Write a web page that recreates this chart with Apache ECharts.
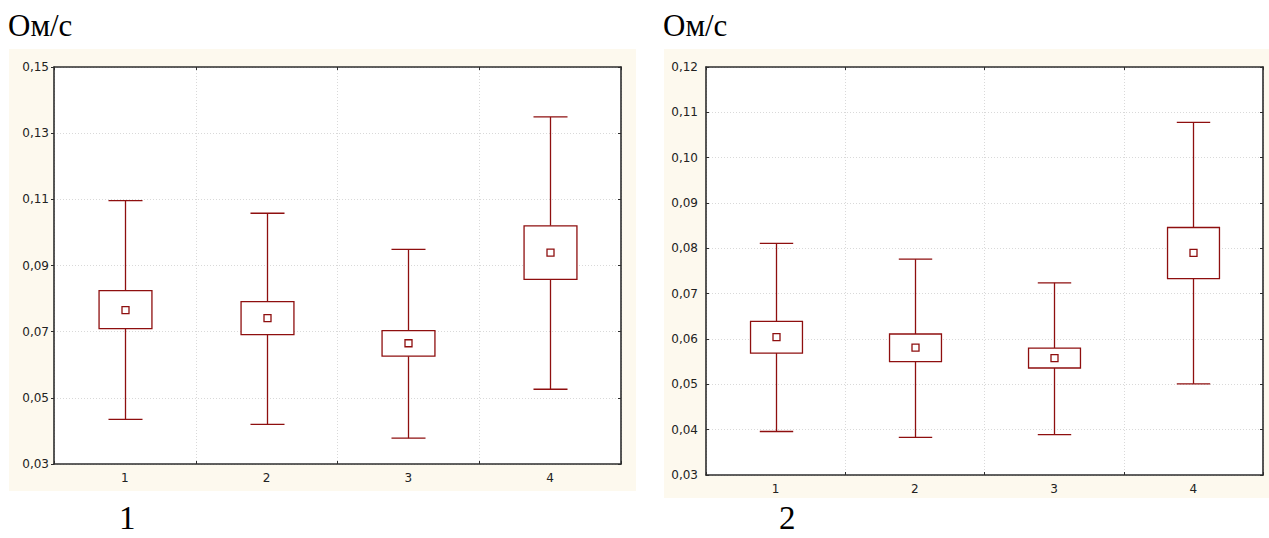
<!DOCTYPE html>
<html>
<head>
<meta charset="utf-8">
<script src="https://cdn.jsdelivr.net/npm/echarts@6/dist/echarts.min.js"></script>
<style>
html,body{margin:0;padding:0;background:#fff;}
#chart{width:1269px;height:538px;}
</style>
</head>
<body>
<div id="chart"></div>
<script>
// ---- Data ----
const categories = ['1', '2', '3', '4'];
const unitLabel = 'Ом/с';
const panelLabels = ['1', '2'];

// Chart 1
const c1WhiskerLow  = [0.0435, 0.0420, 0.0378, 0.0526];
const c1BoxLow      = [0.0709, 0.0691, 0.0626, 0.0858];
const c1Mean        = [0.0765, 0.0741, 0.0665, 0.0939];
const c1BoxHigh     = [0.0824, 0.0791, 0.0703, 0.1020];
const c1WhiskerHigh = [0.1096, 0.1058, 0.0949, 0.1349];

// Chart 2
const c2WhiskerLow  = [0.0396, 0.0383, 0.0389, 0.0501];
const c2BoxLow      = [0.0569, 0.0550, 0.0536, 0.0733];
const c2Mean        = [0.0604, 0.0581, 0.0558, 0.0790];
const c2BoxHigh     = [0.0639, 0.0611, 0.0580, 0.0846];
const c2WhiskerHigh = [0.0811, 0.0776, 0.0724, 0.1078];

// Axis settings
const c1YMin = 0.03, c1YMax = 0.15, c1YStep = 0.02;
const c2YMin = 0.03, c2YMax = 0.12, c2YStep = 0.01;

// ---- Build ----
function rows(wl, bl, m, bh, wh) {
  return categories.map((c, i) => [i, wl[i], bl[i], m[i], bh[i], wh[i]]);
}
const RED = '#8e0f0f';
const LW = 1.3;

function renderBox(params, api) {
  const x = api.value(0);
  const wl = api.coord([x, api.value(1)]);
  const bl = api.coord([x, api.value(2)]);
  const m = api.coord([x, api.value(3)]);
  const bh = api.coord([x, api.value(4)]);
  const wh = api.coord([x, api.value(5)]);
  const band = api.size([1, 0])[0];
  const bw = band * 0.373;
  const cw = band * 0.24;
  const mk = 7;
  const cx = Math.round(wl[0]) + 0.5;
  const st = { stroke: RED, lineWidth: LW, fill: null };
  return {
    type: 'group',
    children: [
      { type: 'line', shape: { x1: cx, y1: wh[1], x2: cx, y2: bh[1] }, style: st },
      { type: 'line', shape: { x1: cx, y1: bl[1], x2: cx, y2: wl[1] }, style: st },
      { type: 'line', shape: { x1: cx - cw / 2, y1: wh[1], x2: cx + cw / 2, y2: wh[1] }, style: st },
      { type: 'line', shape: { x1: cx - cw / 2, y1: wl[1], x2: cx + cw / 2, y2: wl[1] }, style: st },
      { type: 'rect', shape: { x: cx - bw / 2, y: bh[1], width: bw, height: bl[1] - bh[1] }, style: { stroke: RED, lineWidth: LW, fill: '#fff' } },
      { type: 'rect', shape: { x: cx - mk / 2, y: m[1] - mk / 2, width: mk, height: mk }, style: { stroke: RED, lineWidth: LW, fill: '#fff' } }
    ]
  };
}

const fmt = v => v.toFixed(2).replace('.', ',');
const AX = '#2e2e2e';
const gridLine = { show: true, lineStyle: { color: '#d9d9d9', type: [1, 2], width: 1 } };
const labelFont = { fontFamily: 'DejaVu Sans, Arial, sans-serif', fontSize: 12, color: '#222' };

function xAxes(gi) {
  return [
    { type: 'category', gridIndex: gi, data: categories, position: 'bottom', boundaryGap: true,
      axisLine: { lineStyle: { color: AX, width: 1.6 } },
      axisTick: { show: true, inside: true, length: 3, lineStyle: { color: AX } },
      axisLabel: Object.assign({ margin: 8 }, labelFont),
      splitLine: gridLine },
    { type: 'category', gridIndex: gi, data: categories, position: 'top', boundaryGap: true,
      axisLine: { lineStyle: { color: AX, width: 1.6 } },
      axisTick: { show: true, inside: true, length: 3, lineStyle: { color: AX } },
      axisLabel: { show: false }, splitLine: { show: false } }
  ];
}
function yAxes(gi, min, max, step, inside) {
  return [
    { type: 'value', gridIndex: gi, min: min, max: max, interval: step, position: 'left',
      axisLine: { show: true, lineStyle: { color: AX, width: 1.6 } },
      axisTick: { show: true, inside: inside, length: 3, lineStyle: { color: AX } },
      axisLabel: Object.assign({ margin: inside ? 8 : 5, formatter: fmt }, labelFont),
      splitLine: gridLine },
    { type: 'value', gridIndex: gi, min: min, max: max, interval: step, position: 'right',
      axisLine: { show: true, lineStyle: { color: AX, width: 1.6 } },
      axisTick: { show: true, inside: true, length: 3, lineStyle: { color: AX } },
      axisLabel: { show: false }, splitLine: { show: false } }
  ];
}

const chart = echarts.init(document.getElementById('chart'), null, { renderer: 'svg' });
const serif = 'Liberation Serif, Times New Roman, serif';
chart.setOption({
  backgroundColor: '#fff',
  animation: false,
  graphic: [
    { type: 'rect', left: 9, top: 49, shape: { width: 627, height: 442 }, style: { fill: '#fdf9ee' }, z: -10 },
    { type: 'rect', left: 664, top: 49, shape: { width: 605, height: 449 }, style: { fill: '#fdf9ee' }, z: -10 }
  ],
  title: [
    { text: unitLabel, left: 8, top: 10, textStyle: { fontFamily: serif, fontSize: 31, fontWeight: 'normal', color: '#000' }, padding: 0 },
    { text: unitLabel, left: 663, top: 10, textStyle: { fontFamily: serif, fontSize: 31, fontWeight: 'normal', color: '#000' }, padding: 0 },
    { text: panelLabels[0], left: 119, top: 501, textStyle: { fontFamily: serif, fontSize: 33, fontWeight: 'normal', color: '#000' }, padding: 0 },
    { text: panelLabels[1], left: 779, top: 501, textStyle: { fontFamily: serif, fontSize: 33, fontWeight: 'normal', color: '#000' }, padding: 0 }
  ],
  grid: [
    { left: 54, top: 67, width: 567, height: 397, show: true, backgroundColor: '#fff', borderWidth: 0 },
    { left: 706, top: 67, width: 557, height: 408, show: true, backgroundColor: '#fff', borderWidth: 0 }
  ],
  xAxis: xAxes(0).concat(xAxes(1)),
  yAxis: yAxes(0, c1YMin, c1YMax, c1YStep, false).concat(yAxes(1, c2YMin, c2YMax, c2YStep, true)),
  series: [
    { type: 'custom', xAxisIndex: 0, yAxisIndex: 0, renderItem: renderBox,
      encode: { x: 0, y: [1, 2, 3, 4, 5] },
      data: rows(c1WhiskerLow, c1BoxLow, c1Mean, c1BoxHigh, c1WhiskerHigh) },
    { type: 'custom', xAxisIndex: 2, yAxisIndex: 2, renderItem: renderBox,
      encode: { x: 0, y: [1, 2, 3, 4, 5] },
      data: rows(c2WhiskerLow, c2BoxLow, c2Mean, c2BoxHigh, c2WhiskerHigh) }
  ]
});
</script>
</body>
</html>
